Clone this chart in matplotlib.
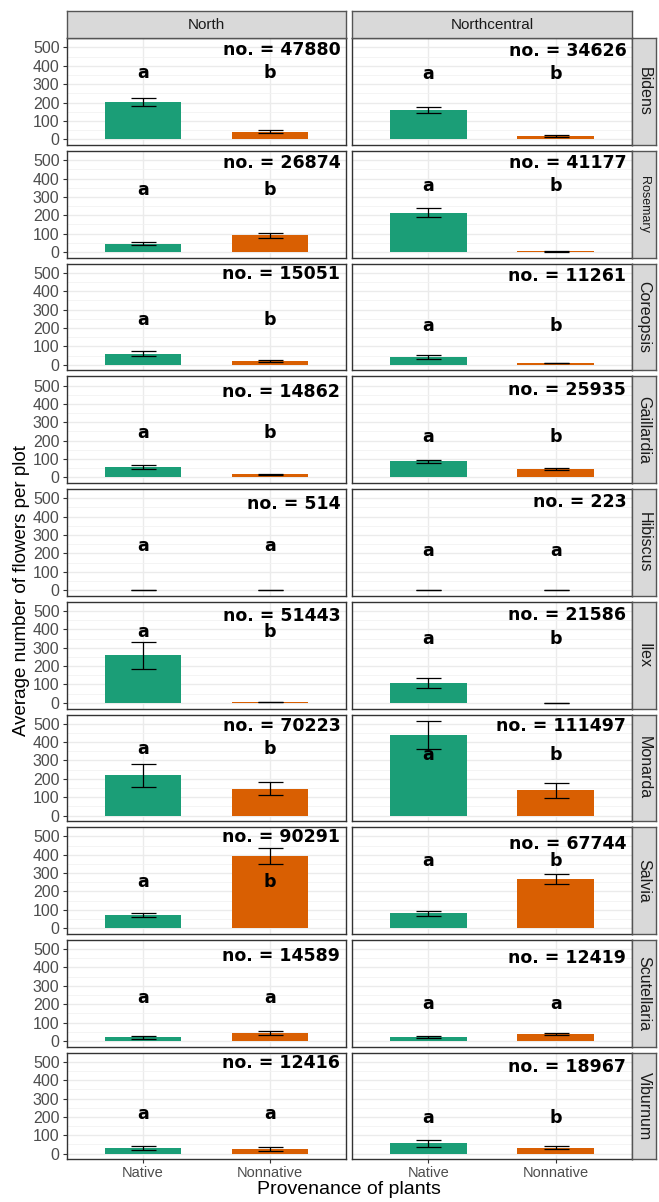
import matplotlib.pyplot as plt
import numpy as np

# facet rows / columns
species = ["Bidens", "Rosemary", "Coreopsis", "Gaillardia", "Hibiscus",
           "Ilex", "Monarda", "Salvia", "Scutellaria", "Viburnum"]
regions = ["North", "Northcentral"]
groups = ["Native", "Nonnative"]

# mean flowers per plot (Native, Nonnative) and error (+/-)
north_mean = [(203, 42), (44, 91), (61, 18), (56, 17), (0.5, 0.5),
              (258, 4), (218, 145), (72, 395), (20, 43), (31, 26)]
north_err = [(22, 10), (8, 15), (16, 5), (10, 4), (0.3, 0.3),
             (74, 1), (65, 35), (13, 43), (8, 9), (12, 10)]
northcentral_mean = [(160, 18), (213, 3), (44, 10), (88, 44), (0.5, 0.5),
                     (106, 1), (438, 138), (81, 266), (20, 36), (57, 32)]
northcentral_err = [(17, 4), (25, 1), (11, 2), (9, 6), (0.3, 0.3),
                    (28, 0.5), (78, 40), (14, 28), (4, 5), (19, 7)]

# sample sizes
north_n = [47880, 26874, 15051, 14862, 514, 51443, 70223, 90291, 14589, 12416]
northcentral_n = [34626, 41177, 11261, 25935, 223, 21586, 111497, 67744, 12419, 18967]

# significance letters and their heights
north_letters = [("a", "b"), ("a", "b"), ("a", "b"), ("a", "b"), ("a", "a"),
                 ("a", "b"), ("a", "b"), ("a", "b"), ("a", "a"), ("a", "a")]
northcentral_letters = [("a", "b"), ("a", "b"), ("a", "b"), ("a", "b"), ("a", "a"),
                        ("a", "b"), ("a", "b"), ("a", "b"), ("a", "a"), ("a", "b")]
north_letter_y = [361, 339, 242, 244, 240, 383, 362, 253, 233, 217]
northcentral_letter_y = [353, 360, 212, 222, 213, 348, 332, 366, 203, 194]
north_n_y = [488, 485, 493, 464, 471, 471, 488, 495, 462, 493]
northcentral_n_y = [482, 485, 484, 477, 482, 477, 488, 457, 452, 471]

means = [north_mean, northcentral_mean]
errs = [north_err, northcentral_err]
ns = [north_n, northcentral_n]
letters = [north_letters, northcentral_letters]
letter_y = [north_letter_y, northcentral_letter_y]
n_y = [north_n_y, northcentral_n_y]

colors = ["#1B9E77", "#D95F02"]
sans = "Liberation Sans"

W, H = 659, 1202
fig = plt.figure(figsize=(W / 100, H / 100), dpi=100)


def box(x0, y0, x1, y1):
    return [x0 / W, 1 - y1 / H, (x1 - x0) / W, (y1 - y0) / H]


col_x = [(66.5, 346), (352, 632)]
top0, pitch, ph = 38.3, 112.7, 106.7
xpos = np.array([1, 2])

for r, sp in enumerate(species):
    top = top0 + r * pitch
    for c in range(2):
        ax = fig.add_axes(box(col_x[c][0], top, col_x[c][1], top + ph))
        ax.set_xlim(0.4, 2.6)
        ax.set_ylim(-31, 543)
        ax.set_axisbelow(True)
        ax.set_yticks([0, 100, 200, 300, 400, 500])
        ax.set_yticks([50, 150, 250, 350, 450, 550], minor=True)
        ax.set_xticks(xpos)
        ax.grid(True, which="major", color="#EBEBEB", lw=1.0)
        ax.grid(True, which="minor", axis="y", color="#F2F2F2", lw=0.6)
        ax.tick_params(which="minor", length=0)
        ax.tick_params(which="major", length=3, width=0.8, color="#333333",
                       labelcolor="#4D4D4D", pad=2)
        for s in ax.spines.values():
            s.set_color("#333333")
            s.set_linewidth(1.0)

        m = means[c][r]
        e = errs[c][r]
        ax.bar(xpos, m, width=0.6, color=colors, zorder=2)
        ax.errorbar(xpos, m, yerr=e, fmt="none", ecolor="black",
                    elinewidth=0.9, capsize=9, capthick=0.9, zorder=3)
        for k in range(2):
            ax.text(xpos[k], letter_y[c][r], letters[c][r][k], ha="center",
                    va="center", fontsize=12.5, fontweight="bold",
                    family="DejaVu Sans", color="black", zorder=4)
        ax.text(2.555, n_y[c][r], "no. = %d" % ns[c][r], ha="right",
                va="center", fontsize=12.5, fontweight="bold",
                family="DejaVu Sans", color="black", zorder=4)

        if c == 0:
            ax.set_yticklabels([str(v) for v in range(0, 501, 100)],
                               fontsize=11.5, family=sans)
        else:
            ax.tick_params(axis="y", left=False, labelleft=False)
        if r == len(species) - 1:
            ax.set_xticklabels(groups, fontsize=10.5, family=sans)
        else:
            ax.tick_params(axis="x", bottom=False, labelbottom=False)

    # row strip on the right
    sax = fig.add_axes(box(632, top, 656, top + ph))
    sax.set_facecolor("#D9D9D9")
    sax.set_xticks([])
    sax.set_yticks([])
    for s in sax.spines.values():
        s.set_color("#555555")
        s.set_linewidth(1.0)
    sax.text(0.5, 0.5, sp, rotation=-90, ha="center", va="center",
             transform=sax.transAxes, fontsize=9 if sp == "Rosemary" else 11.5,
             family=sans, color="#1A1A1A")

# column strips on top
for c, reg in enumerate(regions):
    sax = fig.add_axes(box(col_x[c][0], 11, col_x[c][1], top0))
    sax.set_facecolor("#D9D9D9")
    sax.set_xticks([])
    sax.set_yticks([])
    for s in sax.spines.values():
        s.set_color("#555555")
        s.set_linewidth(1.0)
    sax.text(0.5, 0.5, reg, ha="center", va="center", transform=sax.transAxes,
             fontsize=11, family=sans, color="#1A1A1A")

fig.text(22 / W, 1 - 591 / H, "Average number of flowers per plot", rotation=90,
         ha="center", va="center", fontsize=13.5, family=sans)
fig.text(349 / W, 1 - 1189 / H, "Provenance of plants", ha="center",
         va="center", fontsize=14, family=sans)

fig.savefig("out.png", dpi=100, facecolor="white")
